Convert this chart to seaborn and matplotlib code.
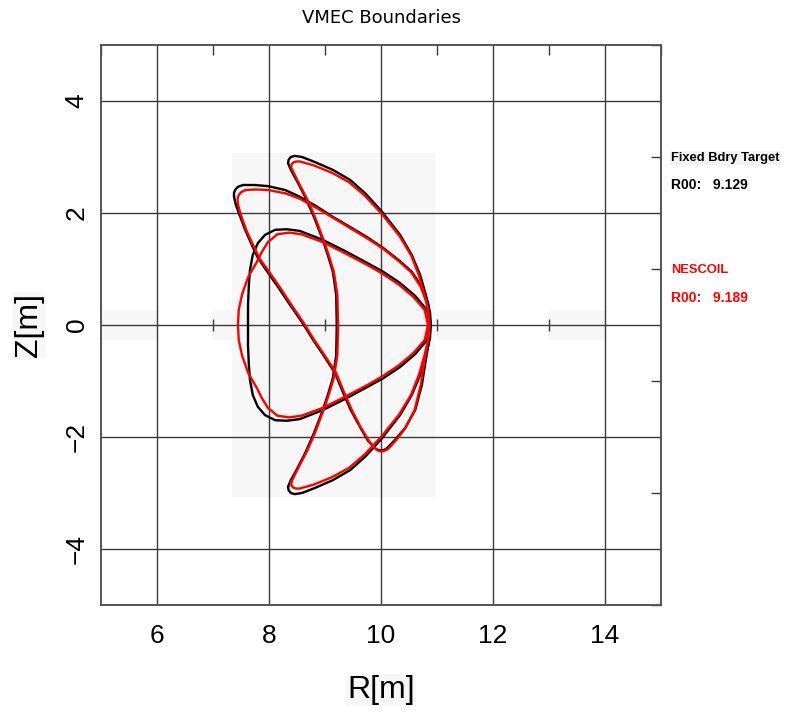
import matplotlib
matplotlib.use("Agg")
import matplotlib.pyplot as plt
import numpy as np
import pandas as pd
import seaborn as sns

# ---- boundary cross-sections (R, Z in metres) at three toroidal angles ----
# Fixed-boundary target
fixed_phi0_R = [10.875, 10.82, 10.61, 10.34, 10.04, 9.75, 9.36, 8.96, 8.55, 8.32,
                8.11, 7.93, 7.80, 7.71, 7.66, 7.64, 7.625, 7.625,
                7.625, 7.64, 7.66, 7.71, 7.80, 7.93, 8.11, 8.32, 8.55, 8.96,
                9.36, 9.75, 10.04, 10.34, 10.61, 10.82]
fixed_phi0_Z = [0.0, 0.27, 0.52, 0.75, 0.95, 1.11, 1.32, 1.52, 1.68, 1.71,
                1.70, 1.61, 1.46, 1.25, 0.98, 0.71, 0.36, 0.0,
                -0.36, -0.71, -0.98, -1.25, -1.46, -1.61, -1.70, -1.71, -1.68, -1.52,
                -1.32, -1.11, -0.95, -0.75, -0.52, -0.27]

fixed_phiq_R = [7.375, 7.375, 7.40, 7.45, 7.54, 7.75, 7.98, 8.29, 8.55, 8.84, 9.14,
                9.45, 9.75, 10.04, 10.34, 10.55, 10.73, 10.84, 10.875,
                10.86, 10.80, 10.73, 10.61, 10.43, 10.25, 10.11, 10.04, 9.98, 9.92, 9.875,
                9.77, 9.625, 9.46, 9.32, 9.18, 8.98, 8.79, 8.59, 8.375, 8.16,
                7.95, 7.80, 7.68, 7.57, 7.48, 7.41]
fixed_phiq_Z = [2.29, 2.36, 2.42, 2.47, 2.50, 2.50, 2.48, 2.41, 2.29, 2.125, 1.93,
                1.75, 1.57, 1.375, 1.14, 0.95, 0.68, 0.39, 0.09,
                -0.27, -0.625, -1.07, -1.52, -1.84, -2.05, -2.20, -2.235, -2.24, -2.22, -2.18,
                -2.07, -1.82, -1.52, -1.20, -0.86, -0.55, -0.27, 0.05, 0.36, 0.68,
                0.98, 1.20, 1.46, 1.71, 1.95, 2.14]

fixed_phih_R = [8.34, 8.35, 8.39, 8.46, 8.59, 8.82, 9.14, 9.45, 9.73, 10.02, 10.34,
                10.55, 10.70, 10.80, 10.875, 10.89,
                10.875, 10.80, 10.70, 10.55, 10.34, 10.02, 9.73, 9.45, 9.14, 8.82,
                8.59, 8.46, 8.39, 8.35, 8.34,
                8.39, 8.50, 8.64, 8.79, 8.95, 9.05, 9.14, 9.20, 9.21,
                9.20, 9.14, 9.05, 8.95, 8.79, 8.64, 8.50, 8.39]
fixed_phih_Z = [-2.89, -2.95, -3.00, -3.02, -3.00, -2.91, -2.77, -2.59, -2.34, -2.02, -1.61,
                -1.25, -0.89, -0.54, -0.23, 0.0,
                0.23, 0.54, 0.89, 1.25, 1.61, 2.02, 2.34, 2.59, 2.77, 2.91,
                3.00, 3.02, 3.00, 2.95, 2.89,
                2.77, 2.57, 2.30, 1.96, 1.55, 1.25, 0.95, 0.54, 0.0,
                -0.54, -0.95, -1.25, -1.55, -1.96, -2.30, -2.57, -2.77]

# NESCOIL
nescoil_phi0_R = [10.84, 10.78, 10.58, 10.32, 10.02, 9.74, 9.36, 8.96, 8.58, 8.36,
                  8.15, 7.98, 7.87, 7.78, 7.63, 7.52, 7.46, 7.445,
                  7.46, 7.52, 7.63, 7.78, 7.87, 7.98, 8.15, 8.36, 8.58, 8.96,
                  9.36, 9.74, 10.02, 10.32, 10.58, 10.78]
nescoil_phi0_Z = [0.0, 0.27, 0.50, 0.72, 0.92, 1.08, 1.28, 1.48, 1.62, 1.65,
                  1.62, 1.48, 1.30, 1.12, 0.86, 0.55, 0.27, 0.0,
                  -0.27, -0.55, -0.86, -1.12, -1.30, -1.48, -1.62, -1.65, -1.62, -1.48,
                  -1.28, -1.08, -0.92, -0.72, -0.50, -0.27]

nescoil_phiq_R = [7.44, 7.44, 7.46, 7.50, 7.58, 7.77, 7.99, 8.30, 8.56, 8.85, 9.15,
                  9.45, 9.75, 10.04, 10.33, 10.54, 10.71, 10.82, 10.85,
                  10.84, 10.78, 10.71, 10.60, 10.43, 10.26, 10.12, 10.05, 10.00, 9.94, 9.89,
                  9.79, 9.64, 9.48, 9.34, 9.20, 9.00, 8.81, 8.61, 8.40, 8.19,
                  7.98, 7.83, 7.71, 7.60, 7.52, 7.47]
nescoil_phiq_Z = [2.18, 2.26, 2.32, 2.37, 2.41, 2.42, 2.41, 2.35, 2.25, 2.09, 1.91,
                  1.73, 1.55, 1.36, 1.13, 0.94, 0.68, 0.39, 0.09,
                  -0.27, -0.625, -1.07, -1.52, -1.85, -2.07, -2.22, -2.25, -2.26, -2.24, -2.20,
                  -2.08, -1.83, -1.52, -1.20, -0.86, -0.55, -0.27, 0.05, 0.36, 0.68,
                  0.98, 1.19, 1.44, 1.68, 1.90, 2.06]

nescoil_phih_R = [8.40, 8.40, 8.43, 8.48, 8.55, 8.80, 9.12, 9.43, 9.71, 10.01, 10.33,
                  10.54, 10.68, 10.78, 10.85, 10.87,
                  10.85, 10.78, 10.68, 10.54, 10.33, 10.01, 9.71, 9.43, 9.12, 8.80,
                  8.55, 8.48, 8.43, 8.40, 8.40,
                  8.45, 8.55, 8.68, 8.82, 8.97, 9.07, 9.16, 9.22, 9.235,
                  9.22, 9.16, 9.07, 8.97, 8.82, 8.68, 8.55, 8.45]
nescoil_phih_Z = [-2.80, -2.86, -2.90, -2.92, -2.92, -2.85, -2.72, -2.55, -2.31, -1.99, -1.59,
                  -1.24, -0.88, -0.53, -0.23, 0.0,
                  0.23, 0.53, 0.88, 1.24, 1.59, 1.99, 2.31, 2.55, 2.72, 2.85,
                  2.92, 2.92, 2.90, 2.86, 2.80,
                  2.70, 2.50, 2.25, 1.93, 1.53, 1.24, 0.94, 0.54, 0.0,
                  -0.54, -0.94, -1.24, -1.53, -1.93, -2.25, -2.50, -2.70]

series_names = ["Fixed Bdry Target", "NESCOIL"]
r00_values = [9.129, 9.189]
series_colors = ["#000000", "#ff0000"]

sections = {
    "Fixed Bdry Target": [(fixed_phi0_R, fixed_phi0_Z),
                          (fixed_phiq_R, fixed_phiq_Z),
                          (fixed_phih_R, fixed_phih_Z)],
    "NESCOIL": [(nescoil_phi0_R, nescoil_phi0_Z),
                (nescoil_phiq_R, nescoil_phiq_Z),
                (nescoil_phih_R, nescoil_phih_Z)],
}

x_major = [6, 8, 10, 12, 14]
x_minor = [5, 7, 9, 11, 13, 15]
y_major = [-4, -2, 0, 2, 4]
y_minor = [-5, -3, -1, 1, 3, 5]

# ---- long-form table, each cross-section closed on itself ----
rows = []
for name in series_names:
    for k, (rr, zz) in enumerate(sections[name]):
        rr = list(rr) + [rr[0]]
        zz = list(zz) + [zz[0]]
        for i, (r, z) in enumerate(zip(rr, zz)):
            rows.append({"boundary": name, "section": f"{name}-{k}",
                         "order": i, "R": r, "Z": z})
df = pd.DataFrame(rows)

sns.set_style("white")
plt.rcParams["font.family"] = ["Liberation Sans", "DejaVu Sans"]
for key in ["text.color", "axes.labelcolor", "xtick.color", "ytick.color"]:
    plt.rcParams[key] = "black"

fig = plt.figure(figsize=(7.86, 7.15), dpi=100)
ax = fig.add_axes([101 / 786, 110 / 715, 560 / 786, 560 / 715])

# faint background panels
shade = "#f7f7f7"
ax.add_patch(plt.Rectangle((7.34, -3.07), 3.62, 6.14, color=shade, zorder=0, lw=0))
for r0 in [5, 7, 11, 13]:
    ax.add_patch(plt.Rectangle((r0, -0.27), 1.0, 0.54, color=shade, zorder=0, lw=0))

# grid
grid_c = "#3a3a3a"
for v in x_major:
    ax.axvline(v, color=grid_c, lw=1.0, zorder=1)
for v in y_major:
    ax.axhline(v, color=grid_c, lw=1.0, zorder=1)
# small ticks along the Z = 0 line
ax.plot(x_minor[1:-1], [0] * 4, ls="none", marker="|", ms=9, mew=1.0,
        color=grid_c, zorder=1)

sns.lineplot(data=df, x="R", y="Z", hue="boundary", units="section",
             estimator=None, sort=False, hue_order=series_names,
             palette=dict(zip(series_names, series_colors)),
             lw=1.7, legend=False, ax=ax, zorder=3,
             solid_joinstyle="round", solid_capstyle="round")

ax.set_xlim(5, 15)
ax.set_ylim(-5, 5)
ax.set_xticks(x_major)
ax.set_yticks(y_major)
ax.set_xticks(x_minor, minor=True)
ax.set_yticks(y_minor, minor=True)
ax.set_yticklabels([f"{v:d}".replace("-", "\u2212") for v in y_major])
ax.tick_params(which="both", direction="in", top=True, right=True,
               color=grid_c, width=1.0)
ax.tick_params(which="major", length=0, labelsize=19)
ax.tick_params(axis="x", which="major", pad=14)
ax.tick_params(axis="y", which="major", pad=9, labelrotation=90)
ax.tick_params(which="minor", length=7)
for lbl in ax.get_yticklabels():
    lbl.set_va("center")
for s in ax.spines.values():
    s.set_color("#555555")
    s.set_linewidth(1.4)

ax.set_xlabel("R[m]", fontsize=23, bbox=dict(facecolor="#f7f7f7", edgecolor="none", pad=1))
ax.set_ylabel("Z[m]", fontsize=23, bbox=dict(facecolor="#f7f7f7", edgecolor="none", pad=1))
ax.xaxis.set_label_coords(0.5, -0.152)
ax.xaxis.label.set_va("center")
ax.yaxis.set_label_coords(-0.128, 0.5)
ax.yaxis.label.set_va("center")

fig.text(381 / 786, 1 - 18 / 715, "VMEC Boundaries", ha="center", va="center",
         fontsize=13, family="DejaVu Sans")

# series annotations
label_y = [(158, 185), (270, 298)]
for name, r00, col, (y1, y2) in zip(series_names, r00_values, series_colors, label_y):
    t = fig.text(671 / 786, 1 - y1 / 715, name, color=col, fontsize=9.3,
                 fontweight="bold", ha="left", va="center")
    if name == "Fixed Bdry Target":
        t.set_bbox(dict(facecolor="#f3f3f3", edgecolor="none", pad=1))
    fig.text(671 / 786, 1 - y2 / 715, f"R00:   {r00:.3f}", color=col, fontsize=10,
             fontweight="bold", ha="left", va="center")

fig.savefig("out.png", dpi=100)
